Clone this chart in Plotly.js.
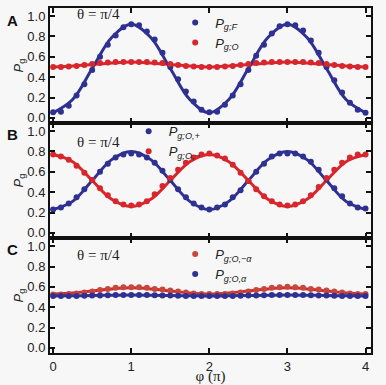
<!DOCTYPE html>
<html>
<head>
<meta charset="utf-8">
<script src="https://cdn.plot.ly/plotly-3.0.1.min.js"></script>
<style>html,body{margin:0;padding:0;background:#f7f7f7;}#chart{width:386px;height:385px;}</style>
</head>
<body>
<div id="chart"></div>
<script>
// measured phase points (units of pi)
const phi = [0,0.1,0.2,0.3,0.4,0.5,0.6,0.7,0.8,0.9,1.0,1.1,1.2,1.3,1.4,1.5,1.6,1.7,1.8,1.9,2.0,
             2.1,2.2,2.3,2.4,2.5,2.6,2.7,2.8,2.9,3.0,3.1,3.2,3.3,3.4,3.5,3.6,3.7,3.8,3.9,4.0];
// fit-curve sample positions
const phiFit = [0,0.25,0.5,0.75,1,1.25,1.5,1.75,2,2.25,2.5,2.75,3,3.25,3.5,3.75,4];

// Panel A
const A_gF = [0.055,0.06,0.12,0.22,0.33,0.47,0.60,0.72,0.81,0.89,0.92,0.91,0.85,0.77,0.64,0.50,0.38,0.26,0.16,0.08,0.055,
              0.06,0.13,0.22,0.33,0.47,0.61,0.72,0.83,0.90,0.92,0.91,0.86,0.76,0.64,0.50,0.37,0.25,0.15,0.08,0.05];
const A_gO = [0.50,0.50,0.505,0.51,0.52,0.53,0.54,0.545,0.55,0.55,0.55,0.55,0.55,0.545,0.54,0.53,0.52,0.51,0.505,0.50,0.50,
              0.50,0.505,0.51,0.52,0.53,0.54,0.545,0.55,0.55,0.55,0.55,0.55,0.545,0.54,0.53,0.52,0.51,0.505,0.50,0.50];
const A_gF_fit = [0.05,0.18,0.485,0.79,0.92,0.79,0.485,0.18,0.05,0.18,0.485,0.79,0.92,0.79,0.485,0.18,0.05];
const A_gO_fit = [0.50,0.51,0.525,0.54,0.55,0.54,0.525,0.51,0.50,0.51,0.525,0.54,0.55,0.54,0.525,0.51,0.50];

// Panel B
const B_plus = [0.23,0.25,0.29,0.35,0.43,0.52,0.60,0.68,0.74,0.77,0.78,0.77,0.74,0.69,0.61,0.52,0.43,0.35,0.29,0.25,0.23,
                0.25,0.28,0.35,0.42,0.51,0.60,0.68,0.75,0.78,0.78,0.78,0.75,0.70,0.62,0.53,0.44,0.36,0.29,0.25,0.24];
const B_minus = [0.77,0.75,0.72,0.66,0.59,0.52,0.44,0.37,0.31,0.28,0.27,0.28,0.31,0.38,0.46,0.54,0.62,0.69,0.74,0.77,0.78,
                 0.76,0.73,0.67,0.59,0.51,0.43,0.36,0.31,0.28,0.27,0.28,0.31,0.37,0.45,0.54,0.62,0.69,0.74,0.77,0.77];
const B_plus_fit = [0.23,0.31,0.515,0.72,0.80,0.72,0.515,0.31,0.23,0.31,0.515,0.72,0.80,0.72,0.515,0.31,0.23];
const B_minus_fit = [0.77,0.70,0.515,0.33,0.26,0.33,0.515,0.70,0.77,0.70,0.515,0.33,0.26,0.33,0.515,0.70,0.77];

// Panel C
const C_minusA = [0.525,0.525,0.53,0.535,0.545,0.555,0.57,0.58,0.59,0.595,0.595,0.595,0.59,0.58,0.575,0.565,0.555,0.545,0.535,0.53,0.53,
                  0.53,0.53,0.535,0.545,0.555,0.57,0.58,0.59,0.595,0.60,0.595,0.59,0.58,0.575,0.565,0.555,0.545,0.535,0.53,0.53];
const C_alpha = [0.51,0.51,0.51,0.51,0.512,0.515,0.515,0.518,0.52,0.52,0.52,0.52,0.52,0.518,0.515,0.515,0.512,0.51,0.51,0.51,0.51,
                 0.51,0.51,0.51,0.512,0.515,0.515,0.518,0.52,0.52,0.52,0.52,0.52,0.518,0.515,0.515,0.512,0.51,0.51,0.51,0.51];
const C_minusA_fit = [0.53,0.54,0.56,0.58,0.59,0.58,0.56,0.54,0.53,0.54,0.56,0.58,0.59,0.58,0.56,0.54,0.53];
const C_alpha_fit = [0.51,0.512,0.515,0.518,0.52,0.518,0.515,0.512,0.51,0.512,0.515,0.518,0.52,0.518,0.515,0.512,0.51];

const yTicks = [0,0.2,0.4,0.6,0.8,1.0];
const xTicks = [0,1,2,3,4];

const BLUE = '#2e3192', RED = '#d7262c', RED_C = '#c8473b';
const MS = 6, LW = 3;

function fit(x, y, color, xa, ya) {
  return {x, y, xaxis: xa, yaxis: ya, mode: 'lines', line: {color, width: LW, shape: 'spline'},
          showlegend: false, hoverinfo: 'skip'};
}
function pts(x, y, color, name, xa, ya, leg) {
  return {x, y, xaxis: xa, yaxis: ya, mode: 'markers', marker: {color, size: MS}, name, legend: leg};
}

const traces = [
  fit(phiFit, A_gO_fit, RED, 'x', 'y'),
  fit(phiFit, A_gF_fit, BLUE, 'x', 'y'),
  pts(phi, A_gF, BLUE, '<i>P</i><sub><i>g;F</i></sub>', 'x', 'y', 'legend'),
  pts(phi, A_gO, RED, '<i>P</i><sub><i>g;O</i></sub>', 'x', 'y', 'legend'),

  fit(phiFit, B_plus_fit, BLUE, 'x2', 'y2'),
  fit(phiFit, B_minus_fit, RED, 'x2', 'y2'),
  pts(phi, B_plus, BLUE, '<i>P</i><sub><i>g;O,+</i></sub>', 'x2', 'y2', 'legend2'),
  pts(phi, B_minus, RED, '<i>P</i><sub><i>g;O,−</i></sub>', 'x2', 'y2', 'legend2'),

  fit(phiFit, C_minusA_fit, RED, 'x3', 'y3'),
  fit(phiFit, C_alpha_fit, BLUE, 'x3', 'y3'),
  pts(phi, C_minusA, RED_C, '<i>P</i><sub><i>g;O,−α</i></sub>', 'x3', 'y3', 'legend3'),
  pts(phi, C_alpha, BLUE, '<i>P</i><sub><i>g;O,α</i></sub>', 'x3', 'y3', 'legend3')
];

const tickFont = {family: 'Liberation Sans, Arial, sans-serif', size: 13, color: '#222'};
function xax(anchor, labels) {
  return {anchor, range: [-0.04, 4.07], tickvals: xTicks, ticktext: xTicks.map(String),
          showticklabels: labels, ticks: 'inside', ticklen: 5, tickwidth: 2, tickcolor: '#111',
          showline: true, linewidth: 2, linecolor: '#111', mirror: 'allticks',
          showgrid: false, zeroline: false, tickfont: tickFont, fixedrange: true};
}
function yax(anchor, domain) {
  return {anchor, domain, range: [-0.05, 1.08], tickvals: yTicks, ticktext: yTicks.map(v => v.toFixed(1)),
          ticks: 'inside', ticklen: 5, tickwidth: 2, tickcolor: '#111',
          showline: true, linewidth: 2, linecolor: '#111', mirror: 'allticks',
          showgrid: false, zeroline: false, tickfont: tickFont, fixedrange: true,
          title: {text: '<i>P</i><sub>g</sub>', font: {family: 'Liberation Sans, Arial, sans-serif', size: 13, color: '#222'}, standoff: 0}};
}
const legFont = {family: 'Liberation Sans, Arial, sans-serif', size: 13, color: '#222'};
function leg(x, y) {
  return {x, y, xanchor: 'left', yanchor: 'top', bgcolor: 'rgba(0,0,0,0)', font: legFont,
          itemwidth: 30, tracegroupgap: 0, borderwidth: 0};
}

const serif = {family: 'Liberation Serif, Times New Roman, serif', size: 15, color: '#222'};
const letterFont = {family: 'Liberation Sans, Arial, sans-serif', size: 15, color: '#111', weight: 'bold'};
function ann(text, x, y, font) {
  return {text, x, y, xref: 'paper', yref: 'paper', showarrow: false, font, xanchor: 'center', yanchor: 'middle'};
}

const layout = {
  width: 386, height: 385,
  margin: {l: 50, r: 15, t: 8, b: 32},
  paper_bgcolor: '#f7f7f7', plot_bgcolor: '#f7f7f7',
  showlegend: true,
  xaxis: xax('y', false),
  xaxis2: xax('y2', false),
  xaxis3: Object.assign(xax('y3', true), {title: {text: 'φ (π)', font: {family: 'Liberation Serif, Times New Roman, serif', size: 15, color: '#222'}, standoff: 2}}),
  yaxis: yax('x', [0.6667, 1]),
  yaxis2: yax('x2', [0.3333, 0.6667]),
  yaxis3: yax('x3', [0, 0.3333]),
  legend: leg(0.39, 1.001),
  legend2: leg(0.245, 0.686),
  legend3: leg(0.39, 0.33),
  annotations: [
    ann('A', -0.118, 0.965, letterFont),
    ann('B', -0.118, 0.632, letterFont),
    ann('C', -0.118, 0.299, letterFont),
    ann('θ = π/4', 0.15, 0.983, serif),
    ann('θ = π/4', 0.15, 0.612, serif),
    ann('θ = π/4', 0.15, 0.284, serif)
  ]
};

Plotly.newPlot('chart', traces, layout, {displayModeBar: false, staticPlot: true});
</script>
</body>
</html>
